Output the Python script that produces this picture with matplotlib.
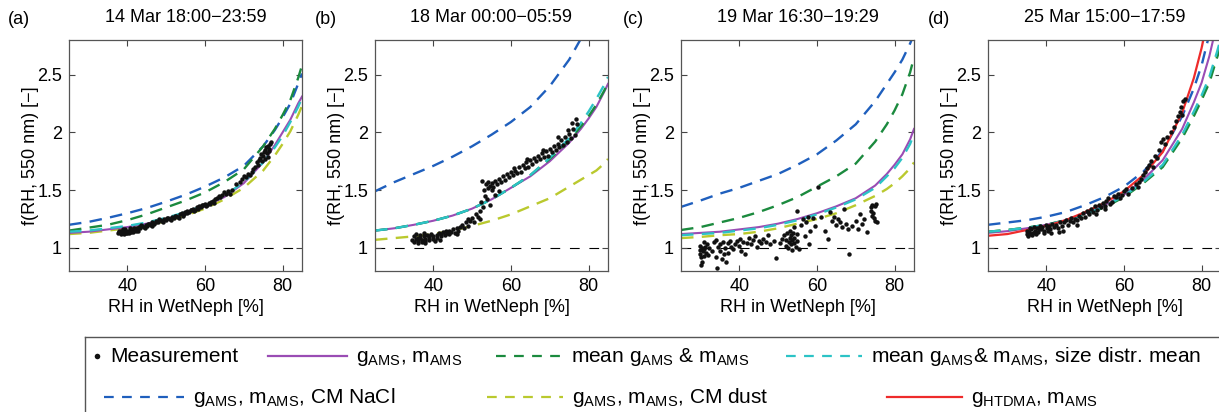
import numpy as np
import matplotlib
matplotlib.use('Agg')
import matplotlib.pyplot as plt
from matplotlib.lines import Line2D

plt.rcParams['font.family'] = ['Liberation Sans', 'DejaVu Sans']
plt.rcParams['mathtext.fontset'] = 'custom'
plt.rcParams['mathtext.rm'] = 'Liberation Sans'
plt.rcParams['mathtext.it'] = 'Liberation Sans'
plt.rcParams['lines.scale_dashes'] = False

rh_fit = [25, 30, 35, 40, 45, 50, 55, 60, 65, 70, 75, 78, 80, 82, 84, 85]

# panel (a) 14 Mar 18:00-23:59
a_gams = [1.13, 1.14, 1.16, 1.18, 1.21, 1.25, 1.30, 1.36, 1.44, 1.56, 1.74, 1.89, 2.00, 2.11, 2.25, 2.31]
a_mean = [1.15, 1.175, 1.20, 1.24, 1.29, 1.35, 1.41, 1.48, 1.57, 1.68, 1.88, 2.03, 2.15, 2.28, 2.47, 2.58]
a_size = [1.14, 1.15, 1.17, 1.19, 1.22, 1.26, 1.31, 1.37, 1.45, 1.57, 1.74, 1.87, 1.97, 2.09, 2.22, 2.30]
a_nacl = [1.20, 1.225, 1.26, 1.30, 1.345, 1.40, 1.46, 1.53, 1.61, 1.71, 1.88, 2.02, 2.13, 2.25, 2.42, 2.51]
a_dust = [1.12, 1.13, 1.15, 1.17, 1.20, 1.23, 1.28, 1.34, 1.42, 1.52, 1.67, 1.80, 1.90, 2.01, 2.15, 2.23]
a_rh = [37.5, 38, 38.3, 38.7, 39, 39.4, 39.8, 40.2, 40.5, 40.9, 41.3, 41.7, 42, 42.5, 43, 43.4,
        43.8, 44.2, 44.7, 45.1, 45.6, 46, 46.5, 47, 47.5, 48, 48.5, 49, 49.5, 50, 50.5, 51,
        51.5, 52, 52.5, 53, 53.5, 54, 54.5, 55, 55.5, 56, 56.5, 57, 57.5, 58, 58.5, 59, 59.5,
        60, 60.5, 61, 61.5, 62, 62.5, 63, 63.5, 64, 64.5, 65, 65.5, 66, 66.5, 67, 68, 69, 69.5,
        70, 70.5, 71, 71.5, 72, 72.5, 73, 73.3, 73.7, 74, 74.3, 74.7, 75, 75.3, 75.6, 76, 76.2,
        76.5, 76.8, 77, 76.3, 75.8, 38.5, 40, 41, 39.2, 42.2,
        37.8, 38.9, 39.6, 40.7, 41.5, 42.8, 43.6, 44.5, 45.3, 46.3, 47.3, 48.2, 49.2, 50.2,
        51.3, 52.2, 53.3, 54.3, 55.3, 56.3, 57.3, 58.3, 59.3, 60.3, 61.3, 62.3, 74.5, 75.5, 76.6]
a_f = [1.13, 1.14, 1.15, 1.13, 1.14, 1.16, 1.14, 1.15, 1.13, 1.16, 1.15, 1.17, 1.16, 1.17, 1.18, 1.17,
       1.19, 1.18, 1.20, 1.19, 1.21, 1.20, 1.22, 1.21, 1.23, 1.22, 1.24, 1.23, 1.25, 1.24, 1.26, 1.25,
       1.27, 1.26, 1.28, 1.27, 1.29, 1.30, 1.29, 1.31, 1.32, 1.31, 1.33, 1.34, 1.33, 1.35, 1.36, 1.35, 1.37,
       1.38, 1.37, 1.39, 1.40, 1.41, 1.42, 1.43, 1.45, 1.44, 1.46, 1.48, 1.47, 1.49, 1.47, 1.50, 1.55, 1.57, 1.60,
       1.62, 1.61, 1.64, 1.63, 1.66, 1.68, 1.70, 1.74, 1.72, 1.76, 1.78, 1.75, 1.80, 1.83, 1.85, 1.82, 1.88,
       1.86, 1.90, 1.92, 1.79, 1.87, 1.12, 1.13, 1.14, 1.12, 1.15,
       1.15, 1.16, 1.13, 1.17, 1.14, 1.15, 1.20, 1.17, 1.21, 1.19, 1.22, 1.25, 1.22, 1.26,
       1.24, 1.28, 1.26, 1.28, 1.30, 1.33, 1.32, 1.34, 1.37, 1.36, 1.38, 1.39, 1.81, 1.77, 1.84]

# panel (b) 18 Mar 00:00-05:59
b_gams = [1.15, 1.17, 1.20, 1.235, 1.28, 1.34, 1.42, 1.52, 1.62, 1.75, 1.91, 2.03, 2.12, 2.22, 2.35, 2.42]
b_mean = [1.15, 1.17, 1.20, 1.235, 1.28, 1.34, 1.42, 1.52, 1.63, 1.77, 1.93, 2.05, 2.14, 2.24, 2.36, 2.43]
b_size = [1.15, 1.17, 1.20, 1.235, 1.28, 1.34, 1.42, 1.52, 1.63, 1.78, 1.95, 2.08, 2.18, 2.29, 2.41, 2.48]
b_nacl = [1.49, 1.57, 1.64, 1.71, 1.79, 1.88, 1.98, 2.09, 2.22, 2.40, 2.63, 2.81, 2.95, 3.10, 3.30, 3.40]
b_dust = [1.07, 1.085, 1.10, 1.12, 1.15, 1.19, 1.235, 1.29, 1.36, 1.43, 1.53, 1.59, 1.63, 1.67, 1.73, 1.77]
b_rh = [34.5, 35, 35, 35.5, 35.5, 36, 36, 36.5, 36.5, 37, 37, 37.5, 37.5, 38, 38, 38.5, 39, 39, 39.5,
        40, 40, 40.5, 41, 41, 41.5, 42, 42, 42.5, 43, 43.5, 44, 44, 44.5, 45, 45.5, 46, 46.5, 47,
        47.5, 48, 48.5, 49, 49, 49.5, 50, 50.5, 51, 51.5, 52, 52, 52.3, 52.5, 52.8, 53, 53.3, 53.5,
        54, 54, 54.5, 55, 55, 55.5, 56, 56.5, 57, 57.5, 58, 58.5, 59, 59.5, 60, 60.5, 61, 61.5, 62,
        62.5, 63, 63.5, 64, 64.5, 65, 65.5, 66, 66.5, 67, 67.5, 68, 68.5, 69, 69.5, 70, 70.5, 71,
        71.5, 72, 72.5, 73, 73.5, 74, 74.5, 75, 75.5, 76, 76.5, 76.8, 77, 56, 57, 53.8, 54.5,
        36.2, 37.8, 38.8, 41.8, 43.2, 46.2, 60.8, 64.2, 68.2, 72.2, 74.8, 75.8]
b_f = [1.07, 1.05, 1.10, 1.08, 1.12, 1.06, 1.04, 1.09, 1.11, 1.07, 1.05, 1.10, 1.13, 1.08, 1.06, 1.11, 1.09, 1.07, 1.12,
       1.10, 1.08, 1.06, 1.11, 1.09, 1.13, 1.10, 1.12, 1.14, 1.11, 1.13, 1.12, 1.15, 1.14, 1.16, 1.13, 1.17, 1.15, 1.18,
       1.20, 1.17, 1.22, 1.19, 1.25, 1.23, 1.26, 1.22, 1.29, 1.27, 1.25, 1.32, 1.40, 1.58, 1.35, 1.50, 1.45, 1.55,
       1.52, 1.57, 1.54, 1.50, 1.56, 1.53, 1.58, 1.55, 1.60, 1.57, 1.62, 1.59, 1.64, 1.61, 1.66, 1.63, 1.67, 1.65, 1.70,
       1.66, 1.72, 1.69, 1.74, 1.70, 1.76, 1.73, 1.78, 1.75, 1.80, 1.77, 1.82, 1.79, 1.84, 1.80, 1.86, 1.83, 1.88,
       1.85, 1.90, 1.87, 1.93, 1.89, 1.96, 1.92, 1.99, 1.95, 2.03, 1.98, 2.12, 2.07, 1.46, 1.49, 1.42, 1.37,
       1.09, 1.04, 1.10, 1.07, 1.15, 1.12, 1.69, 1.77, 1.85, 1.96, 2.02, 2.08]

# panel (c) 19 Mar 16:30-19:29
c_gams = [1.12, 1.13, 1.14, 1.16, 1.18, 1.21, 1.25, 1.30, 1.36, 1.43, 1.54, 1.64, 1.72, 1.81, 1.94, 2.03]
c_mean = [1.155, 1.18, 1.22, 1.26, 1.31, 1.37, 1.44, 1.53, 1.62, 1.73, 1.92, 2.07, 2.19, 2.33, 2.52, 2.65]
c_size = [1.11, 1.12, 1.13, 1.15, 1.17, 1.20, 1.24, 1.29, 1.35, 1.42, 1.52, 1.62, 1.69, 1.78, 1.90, 1.99]
c_nacl = [1.355, 1.41, 1.47, 1.52, 1.58, 1.64, 1.72, 1.81, 1.93, 2.07, 2.27, 2.42, 2.52, 2.63, 2.77, 2.85]
c_dust = [1.085, 1.095, 1.11, 1.12, 1.14, 1.17, 1.21, 1.25, 1.30, 1.37, 1.45, 1.51, 1.56, 1.62, 1.69, 1.74]
c_rh = [30, 30, 30, 30.2, 30.2, 30.5, 30.5, 30.7, 30.8, 31, 31, 31.2, 31.5, 31.8, 32, 32.3, 33, 33.5,
        34, 34, 34.2, 34.5, 35, 35, 35.5, 35.8, 36, 36.3, 36.5, 37, 37.2, 37.5, 38, 38.5, 39, 39.5,
        40, 40.3, 40.5, 41, 41.5, 42, 42.5, 43, 43.5, 44, 44.5, 45, 45.5, 46, 47, 47.5, 48, 49, 49.5,
        50.5, 51, 51.5, 52, 52, 52.3, 52.5, 52.7, 53, 53, 53.2, 53.4, 53.5, 53.6, 53.8, 54, 54, 54.2,
        54.5, 54.8, 55, 55, 55.5, 56, 56.3, 57, 57.3, 57.7, 58, 58.3, 59, 59.5, 60.3, 61, 62, 62.8,
        63.3, 64, 64.5, 65, 65.5, 66, 66.5, 67, 67.5, 68, 68.2, 69, 70, 70.5, 71, 71.5, 72, 73,
        73.8, 74, 74.3, 74.5, 74.7, 75, 75.2, 75.4, 75, 74.2]
c_f = [0.98, 0.95, 1.02, 0.92, 0.85, 0.88, 1.00, 0.97, 1.05, 0.99, 0.93, 1.01, 0.96, 1.03, 0.94, 1.00, 0.97, 1.05,
       1.07, 0.92, 0.83, 1.01, 0.97, 1.03, 0.90, 1.05, 0.95, 1.00, 0.88, 1.04, 0.96, 1.06, 1.01, 0.99, 1.03, 1.06,
       1.02, 1.08, 0.97, 1.05, 0.95, 1.04, 1.09, 1.03, 1.07, 1.10, 1.01, 1.06, 1.04, 1.08, 1.05, 1.11, 1.03, 1.06, 0.91,
       1.04, 1.08, 1.11, 1.02, 1.07, 1.13, 1.00, 1.05, 1.09, 1.15, 1.03, 1.11, 0.98, 1.07, 1.13, 1.04, 1.18, 1.09,
       1.01, 1.12, 1.32, 1.06, 0.99, 1.20, 1.25, 1.10, 1.22, 1.27, 1.03, 1.15, 1.26, 1.19, 1.53, 1.27, 1.15, 1.08,
       1.31, 1.23, 1.27, 1.20, 1.25, 1.22, 1.18, 1.34, 1.21, 1.16, 0.95, 1.19, 1.23, 1.16, 1.29, 1.21, 1.25, 1.14,
       1.32, 1.35, 1.37, 1.30, 1.26, 1.23, 1.38, 1.22, 1.36, 1.28]

# panel (d) 25 Mar 15:00-17:59
d_gams = [1.13, 1.145, 1.17, 1.20, 1.24, 1.30, 1.37, 1.46, 1.59, 1.76, 2.03, 2.26, 2.43, 2.66, 2.95, 3.15]
d_mean = [1.14, 1.155, 1.175, 1.20, 1.24, 1.29, 1.35, 1.44, 1.56, 1.70, 1.95, 2.14, 2.28, 2.43, 2.65, 2.75]
d_size = [1.14, 1.155, 1.175, 1.20, 1.24, 1.29, 1.36, 1.45, 1.57, 1.72, 1.98, 2.18, 2.32, 2.48, 2.70, 2.82]
d_nacl = [1.20, 1.22, 1.24, 1.27, 1.31, 1.37, 1.44, 1.53, 1.66, 1.84, 2.14, 2.38, 2.58, 2.85, 3.20, 3.40]
d_dust = [1.14, 1.155, 1.175, 1.20, 1.24, 1.29, 1.355, 1.445, 1.565, 1.71, 1.965, 2.16, 2.30, 2.45, 2.67, 2.78]
d_htdma = [1.105, 1.12, 1.155, 1.19, 1.24, 1.31, 1.39, 1.49, 1.63, 1.83, 2.17, 2.47, 2.73, 3.05, 3.50, 3.80]
d_rh = [35, 35, 35.3, 35.5, 35.8, 36, 36.2, 36.5, 36.8, 37, 37.3, 37.5, 38, 38.3, 38.7, 39, 39.5,
        40, 40.3, 40.7, 41, 41.5, 42, 42.5, 43, 43.5, 44, 44.5, 45, 45.5, 46, 46.5, 47, 47.5, 48,
        48.5, 49, 49.5, 50, 50.5, 51, 51.5, 52, 52.5, 53, 53.5, 54, 54.5, 55, 55.5, 56, 57, 57.5,
        58, 58.5, 59, 60, 60.5, 61, 62, 63, 63.5, 64, 64.5, 65, 65.5, 66, 66.5, 67, 67.5, 68, 68.5,
        69, 69.5, 70, 70.5, 71, 72, 73, 73.5, 74, 74.5, 75, 75.2, 75.7, 74.8, 41.2, 43.2, 44.2,
        35.6, 36.4, 37.2, 38.2, 39.3, 40.5, 47.8, 50.8, 52.8, 55.2, 56.5, 59.5]
d_f = [1.12, 1.15, 1.10, 1.14, 1.17, 1.12, 1.16, 1.13, 1.18, 1.15, 1.12, 1.17, 1.14, 1.19, 1.16, 1.18, 1.15,
       1.20, 1.17, 1.19, 1.16, 1.21, 1.18, 1.20, 1.17, 1.22, 1.19, 1.22, 1.24, 1.20, 1.23, 1.26, 1.22, 1.25, 1.20,
       1.28, 1.26, 1.30, 1.27, 1.32, 1.29, 1.34, 1.31, 1.36, 1.33, 1.37, 1.35, 1.39, 1.36, 1.41, 1.43, 1.40, 1.45,
       1.44, 1.47, 1.43, 1.49, 1.51, 1.47, 1.52, 1.55, 1.53, 1.57, 1.60, 1.63, 1.66, 1.69, 1.72, 1.75, 1.70, 1.80, 1.78,
       1.85, 1.92, 1.94, 1.90, 1.96, 2.00, 2.05, 2.10, 2.14, 2.18, 2.15, 2.27, 2.29, 2.22, 1.13, 1.14, 1.15,
       1.13, 1.11, 1.14, 1.16, 1.13, 1.15, 1.24, 1.31, 1.29, 1.34, 1.38, 1.46]

titles = ['14 Mar 18:00\u221223:59', '18 Mar 00:00\u221205:59',
          '19 Mar 16:30\u221219:29', '25 Mar 15:00\u221217:59']
letters = ['(a)', '(b)', '(c)', '(d)']

c_purple = '#9a4cb4'
c_green = '#1b8a3e'
c_cyan = '#2cc3c6'
c_blue = '#1f5fbd'
c_yellow = '#bac92e'
c_red = '#ee2b2b'
dash = (0, (9, 6))

W, H = 1219, 412
fig = plt.figure(figsize=(W / 100, H / 100), dpi=100)

lefts = [69, 375, 681, 988]
letter_x = [8, 315, 623, 928]
panels = [
    (a_rh, a_f, a_gams, a_mean, a_size, a_nacl, a_dust, None),
    (b_rh, b_f, b_gams, b_mean, b_size, b_nacl, b_dust, None),
    (c_rh, c_f, c_gams, c_mean, c_size, c_nacl, c_dust, None),
    (d_rh, d_f, d_gams, d_mean, d_size, d_nacl, d_dust, d_htdma),
]

for i, (rh, f, gams, mean, size, nacl, dust, htdma) in enumerate(panels):
    ax = fig.add_axes([lefts[i] / W, 1 - 271 / H, 233 / W, 231 / H])
    ax.axhline(1, color='k', lw=0.8, linestyle=(0, (7, 7)), zorder=1)
    ax.plot(rh_fit, nacl, color=c_blue, lw=1.7, linestyle=dash, zorder=2)
    ax.plot(rh_fit, dust, color=c_yellow, lw=1.7, linestyle=dash, zorder=2)
    ax.plot(rh_fit, gams, color=c_purple, lw=1.5, zorder=2)
    ax.plot(rh_fit, mean, color=c_green, lw=1.7, linestyle=dash, zorder=2)
    ax.plot(rh_fit, size, color=c_cyan, lw=1.7, linestyle=dash, zorder=2)
    if htdma is not None:
        ax.plot(rh_fit, htdma, color=c_red, lw=1.6, zorder=2)
    ax.plot(rh, f, 'o', color='#111111', ms=3.2, mec='none', zorder=3)

    ax.set_xlim(25, 85)
    ax.set_ylim(0.8, 2.8)
    ax.set_xticks([40, 60, 80])
    ax.set_yticks([1, 1.5, 2, 2.5])
    ax.set_yticklabels(['1', '1.5', '2', '2.5'])
    ax.tick_params(direction='in', top=True, right=True, length=4, width=0.8,
                   labelsize=13, color='#444444', pad=5)
    for s in ax.spines.values():
        s.set_color('#555555')
        s.set_linewidth(0.9)
    ax.set_xlabel('RH in WetNeph [%]', fontsize=13, labelpad=3)
    ax.set_ylabel('f(RH, 550 nm) [\u2212]', fontsize=13, labelpad=-1)
    ax.text(0.5, 1 + 22 / 231, titles[i], transform=ax.transAxes,
            ha='center', va='center', fontsize=13)
    fig.text(letter_x[i] / W, 1 - 19 / H, letters[i], ha='left', va='center', fontsize=13)

# legend box drawn in pixel coordinates
lax = fig.add_axes([85 / W, -0.1, 1.0, 1 - 336.7 / H + 0.1])
lax.set_xlim(85, 85 + W)
lax.set_ylim(H + 0.1 * H, 336.7)
lax.set_xticks([])
lax.set_yticks([])
for s in lax.spines.values():
    s.set_color('#555555')
    s.set_linewidth(1.0)

r1, r2 = 355.7, 396.7
sub = r'$_{\mathrm{AMS}}$'
entries = [
    # (x0, x1, y, color, style, label)
    (None, 97, r1, '#111111', 'dot', 'Measurement'),
    (268, 347, r1, c_purple, '-', 'g' + sub + ', m' + sub),
    (496, 562, r1, c_green, '--', 'mean g' + sub + ' & m' + sub),
    (786, 862, r1, c_cyan, '--', 'mean g' + sub + '& m' + sub + ', size distr. mean'),
    (104, 184, r2, c_blue, '--', 'g' + sub + ', m' + sub + ', CM NaCl'),
    (487, 563, r2, c_yellow, '--', 'g' + sub + ', m' + sub + ', CM dust'),
    (887, 962, r2, c_red, '-', r'g$_{\mathrm{HTDMA}}$, m' + sub),
]
for x0, x1, y, col, style, lab in entries:
    if style == 'dot':
        lax.plot([x1], [y], 'o', color=col, ms=4, mec='none')
        tx = x1 + 13
    else:
        ls = '-' if style == '-' else (0, (7, 6))
        lax.add_line(Line2D([x0, x1], [y, y], color=col, lw=1.6, linestyle=ls))
        tx = x1 + 9
    lax.text(tx, y + 6, lab, fontsize=15, ha='left', va='baseline')

fig.savefig('out.png', dpi=100)
